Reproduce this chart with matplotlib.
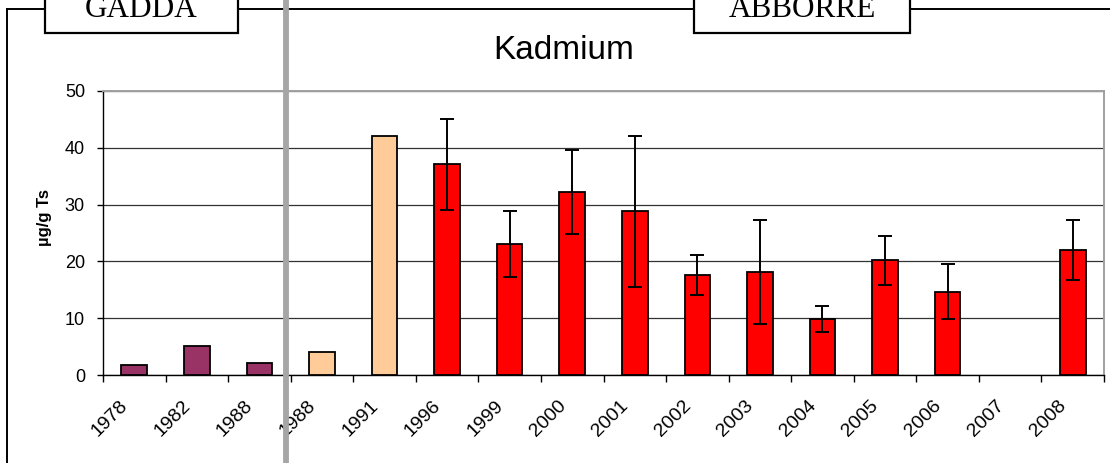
import numpy as np
import matplotlib
matplotlib.use("Agg")
import matplotlib.pyplot as plt
from matplotlib.patches import Rectangle
from matplotlib.lines import Line2D
from matplotlib.transforms import ScaledTranslation

# data
YEARS = ["1978", "1982", "1988", "1988", "1991", "1996", "1999", "2000", "2001",
         "2002", "2003", "2004", "2005", "2006", "2007", "2008"]
CADMIUM = [1.8, 5.1, 2.1, 4.05, 42.0, 37.1, 23.05, 32.3, 28.8,
           17.6, 18.2, 9.9, 20.2, 14.7, np.nan, 22.05]
ERR = [np.nan, np.nan, np.nan, np.nan, np.nan, 8.0, 5.75, 7.4, 13.3,
       3.55, 9.15, 2.3, 4.3, 4.8, np.nan, 5.3]
GROUP = ["gadda"] * 3 + ["old"] * 2 + ["abborre"] * 11

COLORS = {"gadda": "#993366", "old": "#FFCC99", "abborre": "#FF0000"}
W, H = 1110, 463

fig = plt.figure(figsize=(W / 100, H / 100), dpi=100)
fig.patch.set_facecolor("white")


def fx(px):
    return px / W


def fy(py):
    return 1 - py / H


ax = fig.add_axes([fx(103), fy(375), fx(1104) - fx(103), fy(91) - fy(375)])
x = np.arange(len(YEARS))
ax.bar(x, CADMIUM, width=0.41, color=[COLORS[g] for g in GROUP],
       edgecolor="black", linewidth=1.3, zorder=3)
ax.errorbar(x, CADMIUM, yerr=ERR, fmt="none", ecolor="black", elinewidth=1.4,
            capsize=4.7, capthick=1.4, zorder=4)

ax.set_xlim(-0.5, len(YEARS) - 0.5)
ax.set_ylim(0, 50)
ax.set_yticks(range(0, 51, 10))
ax.yaxis.grid(True, color="#333333", lw=0.9, zorder=0)
ax.set_axisbelow(True)
for s in ["top", "right"]:
    ax.spines[s].set_color("#a0a0a0")
    ax.spines[s].set_linewidth(1.4)
for s in ["left", "bottom"]:
    ax.spines[s].set_color("black")
    ax.spines[s].set_linewidth(1.0)

ax.tick_params(axis="y", length=4, width=1, pad=9, labelsize=13)
for lab in ax.get_yticklabels():
    lab.set_family("Liberation Sans")

# tick marks on category boundaries, labels under the categories
ax.set_xticks(np.arange(-0.5, len(YEARS), 1.0))
ax.set_xticklabels([])
ax.tick_params(axis="x", which="major", length=5, width=1)
ax.set_xticks(x, minor=True)
ax.set_xticklabels(YEARS, minor=True, rotation=45, ha="right", va="center",
                   rotation_mode="anchor", fontsize=14, family="Liberation Sans")
ax.tick_params(axis="x", which="minor", length=0, pad=0)
off = ScaledTranslation(-0.09, -0.28, fig.dpi_scale_trans)
for lab in ax.get_xticklabels(minor=True):
    lab.set_transform(lab.get_transform() + off)

fig.text(fx(45), fy(218), "µg/g Ts", rotation=90, ha="center", va="center",
         fontsize=12, fontweight="bold", family="Liberation Sans")
fig.text(fx(564), fy(59), "Kadmium", ha="center", va="baseline",
         fontsize=24, family="Liberation Sans")

# outer frame and group boxes
frame_kw = dict(color="black", lw=1.4, transform=fig.transFigure)
fig.add_artist(Line2D([fx(7), fx(7)], [fy(9), 0], **frame_kw))
fig.add_artist(Line2D([fx(7), fx(45)], [fy(9), fy(9)], **frame_kw))
fig.add_artist(Line2D([fx(238), fx(694)], [fy(9), fy(9)], **frame_kw))
fig.add_artist(Line2D([fx(910), 1.0], [fy(9), fy(9)], **frame_kw))
for left, right, label in [(45, 238, "GADDA"), (694, 910, "ABBORRE")]:
    fig.add_artist(Rectangle((fx(left), fy(33)), fx(right) - fx(left), fy(-20) - fy(33),
                             transform=fig.transFigure, facecolor="white",
                             edgecolor="black", lw=1.6))
    fig.text(fx((left + right) / 2), fy(17), label, ha="center", va="baseline",
             fontsize=22.5, family="Liberation Serif")

# grey divider between the two species
fig.add_artist(Line2D([fx(285.5), fx(285.5)], [0, 1], color="#a6a6a6", lw=4.2,
                      transform=fig.transFigure, zorder=10))

fig.savefig("out.png", dpi=100, facecolor="white")
